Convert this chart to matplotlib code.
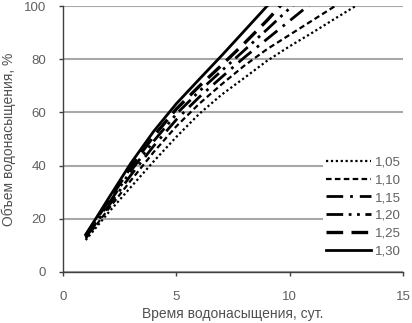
import matplotlib
matplotlib.use("Agg")
import matplotlib.pyplot as plt

t = [1, 2, 3, 4, 5, 6, 7, 8, 9, 10, 11, 12, 13, 14]
labels = ["1,05", "1,10", "1,15", "1,20", "1,25", "1,30"]
v105 = [12.0, 22.3, 32.0, 41.6, 50.8, 59.4, 66.7, 73.0, 79.4, 84.9, 90.0, 95.3, 100.5, 105.0]
v110 = [12.5, 23.6, 34.5, 45.1, 54.8, 63.2, 70.6, 77.6, 83.8, 89.2, 94.6, 100.0, 105.0]
v115 = [13.0, 24.7, 36.5, 47.4, 57.3, 65.7, 73.3, 80.7, 87.6, 94.5, 101.4]
v120 = [13.5, 25.6, 38.1, 49.2, 59.4, 67.9, 75.7, 83.4, 91.2, 99.2, 107.0]
v125 = [13.8, 26.7, 39.6, 51.1, 61.3, 69.8, 77.8, 86.0, 94.6, 104.0]
v130 = [14.0, 27.6, 41.0, 52.9, 63.3, 72.4, 81.4, 90.7, 100.0, 108.0]
series = [v105, v110, v115, v120, v125, v130]

styles = [
    dict(linestyle=(0, (1, 1.2)), linewidth=1.6),
    dict(linestyle=(0, (2.5, 1.5)), linewidth=1.6),
    dict(linestyle=(0, (6, 2.5, 1, 2.5)), linewidth=2.0),
    dict(linestyle=(0, (6, 2, 1, 2, 1, 2)), linewidth=2.0),
    dict(linestyle=(0, (5, 2.5)), linewidth=2.4),
    dict(linestyle="-", linewidth=2.0),
]

plt.rcParams['font.family'] = ['Liberation Sans', 'DejaVu Sans']
fig = plt.figure(figsize=(4.12, 3.23), dpi=100)
ax = fig.add_axes([0.153, 0.158, 0.825, 0.823])

handles = []
for vals, lab, st in zip(series, labels, styles):
    ln, = ax.plot(t[:len(vals)], vals, color="black", label=lab, **st)
    handles.append(ln)

ax.set_xlim(0, 15)
ax.set_ylim(0, 100)
ax.set_xticks([0, 5, 10, 15])
ax.set_yticks([0, 20, 40, 60, 80, 100])
ax.yaxis.grid(True, color="#a8a8a8", linewidth=1.5)
ax.set_axisbelow(True)
for s in ["top", "right"]:
    ax.spines[s].set_visible(False)
for s in ["left", "bottom"]:
    ax.spines[s].set_color("#404040")
    ax.spines[s].set_linewidth(1.0)
ax.tick_params(direction="out", length=3, colors="#404040", labelcolor="#606060", labelsize=9.5, width=1)
ax.tick_params(axis="y", pad=9)
ax.tick_params(axis="x", pad=10.5)
ax.set_xlabel("Время водонасыщения, сут.", fontsize=10, color="#505050", labelpad=3)
ax.set_ylabel("Объем водонасыщения, %", fontsize=10, color="#505050", labelpad=6)

leg = ax.legend(loc="upper left", bbox_to_anchor=(0.765, 0.445), frameon=True, fontsize=9.5,
                handlelength=3.4, handletextpad=0.35, labelspacing=0.42, borderpad=0.2,
                borderaxespad=0)
leg.get_frame().set_edgecolor("none")
leg.get_frame().set_facecolor("white")
leg.get_frame().set_alpha(1)
for txt in leg.get_texts():
    txt.set_color("#606060")

fig.savefig("out.png", dpi=100)
